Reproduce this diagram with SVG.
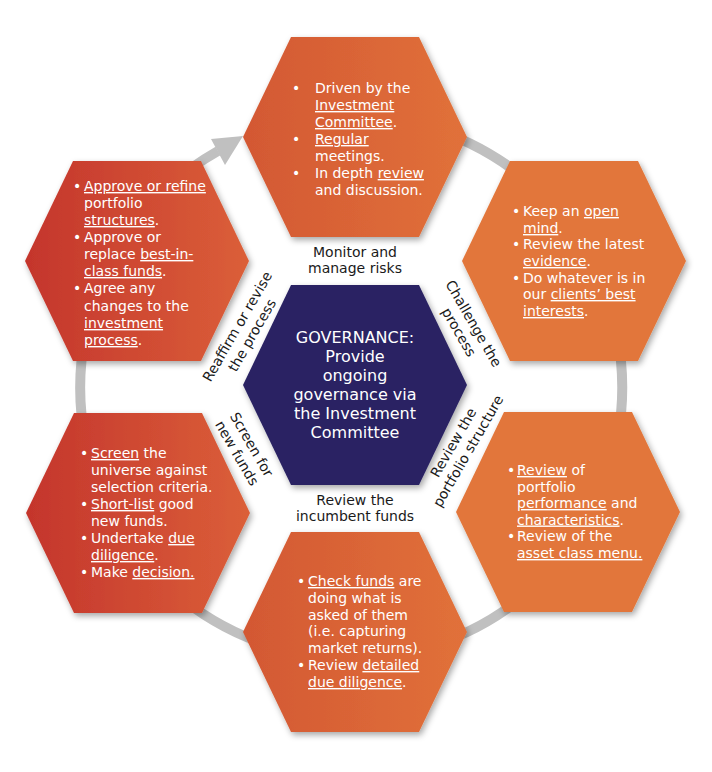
<svg xmlns="http://www.w3.org/2000/svg" xmlns:xlink="http://www.w3.org/1999/xlink" width="712" height="772" viewBox="0 0 712 772">
<defs>
<style>
.b{font-family:"DejaVu Sans","Liberation Sans",sans-serif;font-size:14px;fill:#fff}
.c{font-family:"DejaVu Sans","Liberation Sans",sans-serif;font-size:16px;fill:#fff;text-anchor:middle}
.l{font-family:"DejaVu Sans","Liberation Sans",sans-serif;font-size:14px;fill:#1a1a1a;text-anchor:middle}
.u{text-decoration:underline;text-decoration-thickness:2px;text-underline-offset:3px}
.hex{filter:url(#sh)}
</style>
<path id="hx" d="M-112,0 L-64,-100 L64,-100 L112,0 L64,100 L-64,100Z"/>
<linearGradient id="gRed" x1="0" y1="0" x2="1" y2="0"><stop offset="0" stop-color="#c4352c"/><stop offset="1" stop-color="#db5f39"/></linearGradient>
<linearGradient id="gMid" x1="0" y1="0" x2="1" y2="0"><stop offset="0" stop-color="#d35833"/><stop offset="1" stop-color="#e1713a"/></linearGradient>
<filter id="sh" x="-20%" y="-20%" width="140%" height="140%"><feDropShadow dx="2" dy="3" stdDeviation="3" flood-color="#000" flood-opacity="0.35"/></filter>
</defs>
<rect width="712" height="772" fill="#fff"/>
<g id="connectors">
<path d="M352,116 A271,271 0 1,1 218,151" fill="none" stroke="#c0c0c0" stroke-width="10"/>
<polygon points="243,136 211,139 225,165" fill="#c0c0c0"/>
</g>
<g id="node-top">
<use xlink:href="#hx" class="hex" transform="translate(355,137)" fill="url(#gMid)"/>
<text class="b" x="292" y="93">•</text><text class="b" x="292" y="144">•</text><text class="b" x="292" y="178">•</text>
<text class="b"><tspan x="315" y="93">Driven by the</tspan><tspan x="315" y="110" class="u">Investment</tspan><tspan x="315" y="127"><tspan class="u">Committee</tspan>.</tspan><tspan x="315" y="144" class="u">Regular</tspan><tspan x="315" y="161">meetings.</tspan><tspan x="315" y="178">In depth <tspan class="u">review</tspan></tspan><tspan x="315" y="195">and discussion.</tspan></text>
</g>
<g id="node-topleft">
<use xlink:href="#hx" class="hex" transform="translate(137,261)" fill="url(#gRed)"/>
<text class="b" x="73" y="191">•</text><text class="b" x="73" y="242">•</text><text class="b" x="73" y="293">•</text>
<text class="b"><tspan x="84" y="191" class="u">Approve or refine</tspan><tspan x="84" y="208">portfolio</tspan><tspan x="84" y="225"><tspan class="u">structures</tspan>.</tspan><tspan x="84" y="242">Approve or</tspan><tspan x="84" y="259">replace <tspan class="u">best-in-</tspan></tspan><tspan x="84" y="276"><tspan class="u">class funds</tspan>.</tspan><tspan x="84" y="293">Agree any</tspan><tspan x="84" y="311">changes to the</tspan><tspan x="84" y="328" class="u">investment</tspan><tspan x="84" y="345"><tspan class="u">process</tspan>.</tspan></text>
</g>
<g id="node-topright">
<use xlink:href="#hx" class="hex" transform="translate(574,261)" fill="#e2763a"/>
<text class="b" x="512" y="216">•</text><text class="b" x="512" y="249">•</text><text class="b" x="512" y="283">•</text>
<text class="b"><tspan x="523" y="216">Keep an <tspan class="u">open</tspan></tspan><tspan x="523" y="233"><tspan class="u">mind</tspan>.</tspan><tspan x="523" y="249">Review the latest</tspan><tspan x="523" y="266"><tspan class="u">evidence</tspan>.</tspan><tspan x="523" y="283">Do whatever is in</tspan><tspan x="523" y="299">our <tspan class="u">clients’ best</tspan></tspan><tspan x="523" y="316"><tspan class="u">interests</tspan>.</tspan></text>
</g>
<g id="node-bottomleft">
<use xlink:href="#hx" class="hex" transform="translate(138,513)" fill="url(#gRed)"/>
<text class="b" x="80" y="458">•</text><text class="b" x="80" y="509">•</text><text class="b" x="80" y="543">•</text><text class="b" x="80" y="577">•</text>
<text class="b"><tspan x="91" y="458"><tspan class="u">Screen</tspan> the</tspan><tspan x="91" y="475">universe against</tspan><tspan x="91" y="492">selection criteria.</tspan><tspan x="91" y="509"><tspan class="u">Short-list</tspan> good</tspan><tspan x="91" y="526">new funds.</tspan><tspan x="91" y="543">Undertake <tspan class="u">due</tspan></tspan><tspan x="91" y="560"><tspan class="u">diligence</tspan>.</tspan><tspan x="91" y="577">Make <tspan class="u">decision.</tspan></tspan></text>
</g>
<g id="node-bottomright">
<use xlink:href="#hx" class="hex" transform="translate(568,512)" fill="#e2763a"/>
<text class="b" x="507" y="475">•</text><text class="b" x="507" y="541">•</text>
<text class="b"><tspan x="517" y="475"><tspan class="u">Review</tspan> of</tspan><tspan x="517" y="491.5">portfolio</tspan><tspan x="517" y="508"><tspan class="u">performance</tspan> and</tspan><tspan x="517" y="524.5"><tspan class="u">characteristics</tspan>.</tspan><tspan x="517" y="541">Review of the</tspan><tspan x="517" y="558" class="u">asset class menu.</tspan></text>
</g>
<g id="node-bottom">
<use xlink:href="#hx" class="hex" transform="translate(355,632)" fill="url(#gMid)"/>
<text class="b" x="297" y="586">•</text><text class="b" x="297" y="670">•</text>
<text class="b"><tspan x="308" y="586"><tspan class="u">Check funds</tspan> are</tspan><tspan x="308" y="603">doing what is</tspan><tspan x="308" y="620">asked of them</tspan><tspan x="308" y="636">(i.e. capturing</tspan><tspan x="308" y="653">market returns).</tspan><tspan x="308" y="670">Review <tspan class="u">detailed</tspan></tspan><tspan x="308" y="687"><tspan class="u">due diligence</tspan>.</tspan></text>
</g>
<g id="node-center">
<use xlink:href="#hx" class="hex" transform="translate(355,385)" fill="#2a2463"/>
<text class="c"><tspan x="355" y="343">GOVERNANCE:</tspan><tspan x="355" y="362">Provide</tspan><tspan x="355" y="381">ongoing</tspan><tspan x="355" y="400">governance via</tspan><tspan x="355" y="419">the Investment</tspan><tspan x="355" y="438">Committee</tspan></text>
</g>
<g id="labels">
<text class="l"><tspan x="355" y="257">Monitor and</tspan><tspan x="355" y="273">manage risks</tspan></text>
<text class="l"><tspan x="355" y="505">Review the</tspan><tspan x="355" y="521">incumbent funds</tspan></text>
<text class="l" transform="translate(245,331) rotate(-60)"><tspan x="0" y="-4">Reaffirm or revise</tspan><tspan x="0" y="13">the process</tspan></text>
<text class="l" transform="translate(466,328) rotate(60)"><tspan x="0" y="-4">Challenge the</tspan><tspan x="0" y="13">process</tspan></text>
<text class="l" transform="translate(244,449) rotate(60)"><tspan x="0" y="-4">Screen for</tspan><tspan x="0" y="13">new funds</tspan></text>
<text class="l" transform="translate(461,447) rotate(-60)"><tspan x="0" y="-4">Review the</tspan><tspan x="0" y="13">portfolio structure</tspan></text>
</g>
</svg>
